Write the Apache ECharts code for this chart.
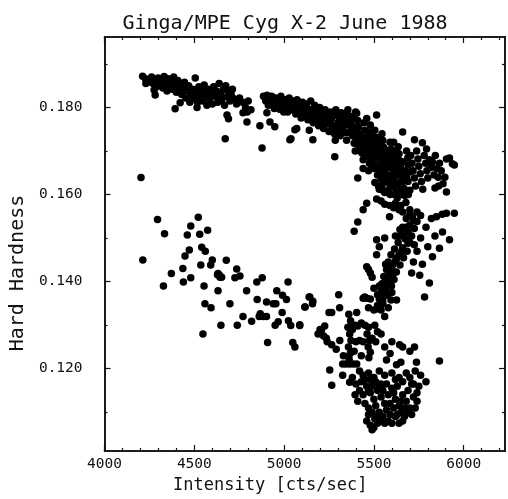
<!DOCTYPE html>
<html>
<head>
<meta charset="utf-8">
<script src="https://cdn.jsdelivr.net/npm/echarts@6/dist/echarts.min.js"></script>
<style>html,body{margin:0;padding:0;background:#fff}#c{width:508px;height:499px}</style>
</head>
<body>
<div id="c"></div>
<script>
// ---- tick / label values ----
const xTickLabels = [4000, 4500, 5000, 5500, 6000];
const xMajorTicks = [4000, 4500, 5000, 5500, 6000];
const xMinorTicks = [4100,4200,4300,4400,4600,4700,4800,4900,5100,5200,5300,5400,5600,5700,5800,5900,6100,6200];
const yTickLabels = [0.12, 0.14, 0.16, 0.18];
const yMajorTicks = [0.12, 0.14, 0.16, 0.18];
const yMinorTicks = [0.11, 0.13, 0.15, 0.17, 0.19];

// ---- data: [intensity, hard hardness] ----
const upperLeftBand = [
[4212,.1872],[4228,.1866],[4240,.1858],[4262,.1870],[4270,.1855],[4283,.1862],[4290,.1848],[4276,.1840],[4298,.1868],[4305,.1855],
[4318,.1863],[4325,.1845],[4332,.1871],[4340,.1858],[4348,.1838],[4355,.1866],[4362,.1850],[4370,.1860],[4378,.1842],[4385,.1870],
[4392,.1852],[4400,.1835],[4408,.1862],[4415,.1846],[4422,.1856],[4430,.1830],[4438,.1843],[4445,.1858],[4452,.1822],[4460,.1838],
[4468,.1850],[4475,.1812],[4482,.1828],[4490,.1842],[4498,.1820],[4505,.1868],[4510,.1835],[4518,.1812],[4525,.1848],[4532,.1825],
[4540,.1838],[4548,.1815],[4555,.1852],[4562,.1830],[4570,.1805],[4578,.1842],[4585,.1820],[4592,.1833],[4600,.1808],[4608,.1848],
[4615,.1826],[4622,.1838],[4630,.1812],[4638,.1855],[4645,.1830],[4652,.1818],[4660,.1840],[4668,.1805],[4675,.1850],[4682,.1825],
[4690,.1838],[4698,.1815],[4705,.1830],[4712,.1842],[4720,.1820],[4735,.1808],[4752,.1822],[4768,.1812],[4785,.1800],[4800,.1815],
[4815,.1795],[4795,.1790],[4282,.1829],[4393,.1797],[4421,.1811],[4515,.1800],[4682,.1783],[4690,.1774],[4771,.1788],[4793,.1767],
[4865,.1758],[4672,.1728],[4877,.1707],[5038,.1728],[4230,.1855]
];
const upperRightBand = [
[4885,.1826],[4898,.1815],[4905,.1828],[4912,.1805],[4920,.1820],[4930,.1826],[4938,.1812],[4945,.1798],[4952,.1822],[4960,.1808],
[4968,.1818],[4975,.1796],[4982,.1826],[4990,.1810],[4998,.1790],[4904,.1788],[4921,.1767],[4948,.1756],
[5005,.1818],[5012,.1803],[5020,.1790],[5028,.1822],[5035,.1808],[5042,.1795],[5050,.1815],[5058,.1800],[5065,.1785],[5072,.1818],
[5080,.1805],[5088,.1792],[5095,.1776],[5060,.1749],[5032,.1726],[5070,.1752],
[5102,.1812],[5110,.1798],[5118,.1785],[5125,.1808],[5132,.1772],[5140,.1795],[5148,.1815],[5155,.1782],[5162,.1765],[5170,.1805],
[5178,.1790],[5185,.1775],[5192,.1758],[5198,.1800],[5160,.1726],[5140,.1748],
[5205,.1785],[5212,.1770],[5220,.1752],[5228,.1795],[5235,.1780],[5242,.1762],[5250,.1745],[5258,.1790],[5265,.1775],[5272,.1758],
[5280,.1740],[5288,.1795],[5295,.1782],[5300,.1765],[5285,.1725],[5282,.1687],
[5305,.1750],[5312,.1735],[5318,.1788],[5325,.1772],[5332,.1758],[5340,.1742],[5348,.1725],[5355,.1795],[5360,.1780],[5368,.1765],
[5375,.1750],[5382,.1735],[5390,.1718],[5396,.1700],[5398,.1790],[5385,.1775],[5340,.1785],
[5404,.1787],[5410,.1770],[5415,.1755],[5420,.1740],[5425,.1725],[5430,.1710],[5435,.1695],[5440,.1680],[5445,.1765],[5450,.1748],
[5455,.1733],[5460,.1718],[5465,.1702],[5470,.1688],[5475,.1672],[5480,.1760],[5485,.1744],[5490,.1728],[5495,.1712],[5500,.1696],
[5410,.1638],[5440,.1660],[5470,.1655],[5498,.1660],[5515,.1783],[5460,.1775],
[5505,.1748],[5510,.1732],[5515,.1716],[5520,.1700],[5525,.1684],[5530,.1668],[5535,.1652],[5540,.1636],[5545,.1740],[5550,.1724],
[5555,.1708],[5560,.1692],[5565,.1676],[5570,.1660],[5575,.1644],[5580,.1628],[5585,.1612],[5590,.1720],[5595,.1704],[5600,.1688],
[5520,.1645],[5545,.1622],[5560,.1605],[5505,.1628],[5530,.1612],
[5605,.1672],[5610,.1656],[5615,.1640],[5620,.1624],[5625,.1608],[5630,.1592],[5635,.1710],[5640,.1694],[5645,.1678],[5650,.1662],
[5655,.1646],[5660,.1744],[5662,.1630],[5668,.1614],[5672,.1598],[5678,.1582],[5682,.1700],[5688,.1684],[5692,.1668],[5698,.1652],
[5650,.1575],[5620,.1580],[5690,.1630],[5700,.1610],[5610,.1720],
[5705,.1690],[5712,.1672],[5718,.1655],[5725,.1638],[5726,.1726],[5732,.1620],[5738,.1700],[5745,.1682],[5750,.1665],[5758,.1648],
[5765,.1630],[5770,.1719],[5772,.1612],[5780,.1690],[5788,.1672],[5795,.1655],[5800,.1638],[5793,.1705],
[5810,.1680],[5818,.1662],[5826,.1675],[5835,.1645],[5842,.1690],[5850,.1660],[5858,.1640],[5865,.1672],[5875,.1655],[5885,.1625],
[5895,.1640],[5904,.1682],[5904,.1606],[5921,.1684],[5937,.1671],[5948,.1668],[5860,.1620],[5840,.1615],
[4895,.1822],[4915,.1812],[4935,.1818],[4955,.1805],[4975,.1815],[4995,.1800],[5015,.1812],[5025,.1798],[5045,.1805],[5062,.1812],
[5085,.1798],[5100,.1785],[5115,.1805],[5135,.1782],[5150,.1795],[5165,.1778],[5180,.1798],[5195,.1772],[5210,.1790],[5225,.1765],
[5240,.1785],[5255,.1768],[5268,.1752],[5278,.1785],[5292,.1758],[5308,.1775],[5322,.1748],[5335,.1775],[5345,.1760],[5358,.1742],
[5372,.1780],[5380,.1758],[5392,.1745],[5400,.1730],[5412,.1715],[5422,.1700],[5432,.1725],[5448,.1700],[5458,.1690],[5468,.1740],
[5478,.1725],[5488,.1700],[5502,.1680],[5512,.1665],[5522,.1730],[5532,.1715],[5542,.1700],[5552,.1680],[5562,.1660],[5572,.1640],
[5582,.1700],[5592,.1680],[5602,.1660],[5612,.1640],[5622,.1700],[5632,.1680],[5642,.1650],[5652,.1630],[5662,.1675],[5672,.1655],
[5682,.1640],[5692,.1600],[5635,.1625],[5590,.1600],[5600,.1620],[5560,.1630],[5540,.1650],[5525,.1620],
[5452,.1688],[5462,.1745],[5472,.1705],[5482,.1685],[5492,.1665],[5507,.1712],[5517,.1695],[5527,.1650],[5537,.1690],[5547,.1665],
[5557,.1645],[5567,.1700],[5577,.1685],[5587,.1665],[5597,.1645],[5607,.1630],[5617,.1685],[5627,.1665],[5637,.1645],[5647,.1610],
[5657,.1600],[5580,.1605],[5615,.1600],[5550,.1610]
];
const normalBranch = [
[5515,.1590],[5540,.1585],[5560,.1578],[5590,.1575],[5610,.1570],[5640,.1565],[5660,.1560],[5700,.1565],[5715,.1549],[5740,.1560],
[5760,.1552],[5587,.1549],[5848,.1549],[5880,.1555],[5904,.1557],[5948,.1557],[5820,.1545],[5440,.1565],[5410,.1537],[5390,.1516],[5460,.1580],
[5680,.1545],[5700,.1530],[5725,.1522],[5740,.1538],[5690,.1515],[5660,.1525],[5650,.1505],[5675,.1498],[5700,.1490],[5635,.1490],
[5660,.1478],[5685,.1470],[5615,.1475],[5640,.1462],[5665,.1455],[5595,.1462],[5620,.1448],[5645,.1438],[5580,.1445],[5600,.1432],
[5625,.1422],[5570,.1428],[5590,.1415],[5612,.1405],[5555,.1412],[5575,.1398],[5598,.1390],[5545,.1395],[5565,.1382],[5540,.1378],
[5560,.1368],[5530,.1360],[5550,.1350],[5520,.1345],[5540,.1335],[5515,.1496],[5530,.1480],[5560,.1500],[5515,.1462],
[5921,.1496],[5882,.1514],[5865,.1477],[5826,.1457],[5809,.1397],[5782,.1365],[5760,.1500],[5790,.1525],[5800,.1480],[5740,.1470],
[5770,.1440],[5720,.1445],[5755,.1415],[5840,.1505],[5710,.1420],
[5460,.1434],[5470,.1428],[5480,.1420],[5449,.1365],[5470,.1340],[5500,.1385],[5490,.1410],[5626,.1358],[5580,.1340],[5560,.1320],[5595,.1358],
[5440,.1362],[5460,.1362],[5480,.1360],[5500,.1335],[5520,.1338],[5549,.1358],
[5143,.1365],[5115,.1342],[5160,.1355],[5087,.1301],[5304,.1370],[5309,.1340],[5265,.1329],[5404,.1329],[5380,.1300],
[5700,.1555],[5720,.1540],[5680,.1525],[5710,.1505],[5725,.1485],[5690,.1488],[5670,.1510],[5645,.1520],[5620,.1505],[5655,.1470],
[5630,.1455],[5605,.1440],[5585,.1425],[5565,.1440],[5610,.1420],[5585,.1405],[5560,.1395],[5530,.1390],[5520,.1370],[5575,.1370],[5600,.1375]
];
const lowerFlare = [
[5360,.1325],[5370,.1310],[5355,.1295],[5365,.1280],[5372,.1265],[5358,.1250],[5368,.1235],[5362,.1222],[5380,.1290],[5395,.1300],
[5410,.1298],[5430,.1305],[5450,.1300],[5470,.1295],[5462,.1280],[5475,.1265],[5468,.1250],[5480,.1238],[5472,.1225],[5490,.1270],
[5400,.1262],[5420,.1265],[5440,.1262],[5390,.1240],[5430,.1230],[5505,.1300],[5520,.1285],[5540,.1280],[5510,.1262],[5200,.1290],
[5220,.1275],[5240,.1262],[5265,.1255],[5290,.1245],[5310,.1265],[5330,.1230],[5254,.1197],[5265,.1162],[5326,.1185],[5365,.1169],
[5326,.1211],[5345,.1211],[5365,.1211],[5385,.1211],[5404,.1211],
[5570,.1220],[5626,.1209],[5650,.1215],[5737,.1215],[5865,.1218],[5660,.1250],[5726,.1250],[5643,.1255],[5600,.1262],[5560,.1250],
[5700,.1240],[5590,.1235],
[5420,.1195],[5440,.1185],[5470,.1190],[5500,.1180],[5530,.1195],[5560,.1185],[5600,.1190],[5640,.1180],[5680,.1190],[5700,.1180],
[5730,.1195],[5760,.1185],[5790,.1170],[5720,.1165],[5750,.1160],[5400,.1165],[5420,.1150],[5440,.1140],[5460,.1160],[5480,.1145],
[5500,.1130],[5520,.1150],[5540,.1135],[5560,.1120],[5580,.1140],[5600,.1155],[5620,.1130],[5640,.1115],[5660,.1140],[5680,.1125],
[5700,.1110],[5720,.1135],[5740,.1145],[5450,.1120],[5470,.1110],[5490,.1100],[5510,.1115],[5530,.1100],[5550,.1090],[5570,.1105],
[5590,.1095],[5610,.1110],[5630,.1095],[5650,.1100],[5670,.1090],[5690,.1100],[5710,.1095],[5460,.1080],[5480,.1070],[5500,.1065],
[5520,.1075],[5490,.1060],[5600,.1075],[5640,.1075],[5580,.1080],[5540,.1080],[5380,.1180],[5395,.1140],[5410,.1125],[5740,.1125],
[5660,.1170],[5620,.1175],[5540,.1165],[5480,.1175],
[5430,.1170],[5450,.1175],[5470,.1150],[5490,.1160],[5510,.1170],[5530,.1160],[5550,.1150],[5570,.1165],[5590,.1120],[5610,.1145],
[5630,.1160],[5650,.1125],[5670,.1110],[5690,.1150],[5710,.1165],[5730,.1110],[5520,.1090],[5560,.1075],[5620,.1090],[5660,.1080],
[5470,.1095],[5505,.1085]
];
const lowerLeftBranch = [
[4203,.1639],[4213,.1450],[4295,.1543],[4334,.1510],[4328,.1390],[4372,.1419],[4436,.1430],[4439,.1399],[4480,.1409],[4448,.1459],
[4472,.1473],[4461,.1507],[4480,.1528],[4522,.1548],[4530,.1509],[4574,.1518],[4541,.1479],[4561,.1470],[4536,.1438],[4591,.1438],
[4600,.1450],[4554,.1390],[4632,.1419],[4643,.1410],[4678,.1449],[4632,.1379],[4559,.1349],[4593,.1340],[4548,.1280],[4648,.1300],
[4698,.1349],[4736,.1429],[4726,.1409],[4754,.1413],[4791,.1379],[4771,.1320],[4739,.1300],[4819,.1309],[4848,.1399],[4878,.1409],
[4850,.1359],[4902,.1353],[4939,.1349],[4954,.1349],[4867,.1326],[4883,.1320],[4902,.1320],[4861,.1320],[4908,.1260],[4959,.1379],
[4991,.1369],[5013,.1359],[5022,.1399],[4989,.1329],[4950,.1300],[4967,.1308],[5024,.1310],[5037,.1299],[5048,.1260],[5060,.1250],
[5087,.1299],[5117,.1342],[5139,.1365],[5158,.1349],[5189,.1280],[5208,.1289],[5226,.1298],[5235,.1270],[5250,.1329],[4629,.1416],
[4640,.1415],[4652,.1410]
];

const MONO = '"DejaVu Sans Mono", monospace';
const X_MIN = 4000, X_MAX = 6230, Y_MIN = 0.1011, Y_MAX = 0.1962;
const lineStyle = { color: '#111', width: 1.6 };

function xAxis(pos, ticks, len, withLabels) {
  return {
    type: 'value', position: pos, min: X_MIN, max: X_MAX,
    axisLine: { show: true, onZero: false, lineStyle },
    axisTick: { show: true, inside: true, length: len, customValues: ticks, lineStyle: { color: '#111', width: 1.2 } },
    axisLabel: withLabels ? { show: true, customValues: xTickLabels, color: '#111', fontFamily: MONO, fontSize: 14.5, margin: 6,
      formatter: v => String(v) } : { show: false },
    splitLine: { show: false },
    name: withLabels ? 'Intensity [cts/sec]' : '',
    nameLocation: 'middle', nameGap: 24,
    nameTextStyle: { color: '#111', fontFamily: MONO, fontSize: 17, padding: [0, 69, 0, 0] }
  };
}
function yAxis(pos, ticks, len, withLabels) {
  return {
    type: 'value', position: pos, min: Y_MIN, max: Y_MAX,
    axisLine: { show: true, onZero: false, lineStyle },
    axisTick: { show: true, inside: true, length: len, customValues: ticks, lineStyle: { color: '#111', width: 1.2 } },
    axisLabel: withLabels ? { show: true, customValues: yTickLabels, color: '#111', fontFamily: MONO, fontSize: 14.5, margin: 22,
      formatter: v => v.toFixed(3) } : { show: false },
    splitLine: { show: false },
    name: withLabels ? 'Hard Hardness' : '',
    nameLocation: 'middle', nameGap: 76,
    nameTextStyle: { color: '#111', fontFamily: MONO, fontSize: 20, padding: [0, 58, 0, 0] }
  };
}

const dot = { symbol: 'circle', symbolSize: 7.5, itemStyle: { color: '#000', opacity: 1 } };
const groups = [upperLeftBand, upperRightBand, normalBranch, lowerFlare, lowerLeftBranch];

const chart = echarts.init(document.getElementById('c'), null, { renderer: 'canvas' });
chart.setOption({
  animation: false,
  backgroundColor: '#fff',
  title: { text: 'Ginga/MPE Cyg X-2 June 1988', left: 280, top: 9, textAlign: 'center',
    textStyle: { color: '#111', fontFamily: MONO, fontSize: 20, fontWeight: 'normal' } },
  grid: { left: 104, right: 3, top: 37, bottom: 48, containLabel: false },
  xAxis: [
    xAxis('bottom', xMajorTicks, 6, true),
    xAxis('bottom', xMinorTicks, 3, false),
    xAxis('top', xMajorTicks, 6, false),
    xAxis('top', xMinorTicks, 3, false)
  ],
  yAxis: [
    yAxis('left', yMajorTicks, 6, true),
    yAxis('left', yMinorTicks, 3, false),
    yAxis('right', yMajorTicks, 6, false),
    yAxis('right', yMinorTicks, 3, false)
  ],
  series: groups.map(g => Object.assign({ type: 'scatter', xAxisIndex: 0, yAxisIndex: 0, data: g }, dot))
});
</script>
</body>
</html>
